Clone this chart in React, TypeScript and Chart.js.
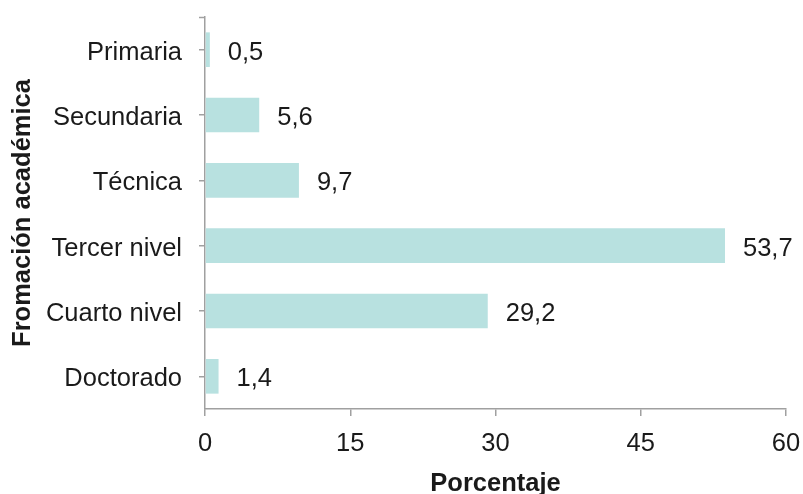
import React, { useEffect, useRef } from "react";
import { Chart, registerables } from "chart.js";

Chart.register(...registerables);

const categories = ["Primaria", "Secundaria", "Técnica", "Tercer nivel", "Cuarto nivel", "Doctorado"];
const values = [0.5, 5.6, 9.7, 53.7, 29.2, 1.4];
const xTicks = [0, 15, 30, 45, 60];

const FONT = "'Liberation Sans', Arial, sans-serif";
const FS = 25.5;
const AXIS = "#a0a0a0";
const TXT = "#1a1a1a";

const labelPlugin = {
  id: "valLabels",
  afterDatasetsDraw(chart: any) {
    const ctx = chart.ctx;
    const meta = chart.getDatasetMeta(0);
    const y = chart.scales.y;
    ctx.save();
    ctx.font = `${FS}px ${FONT}`;
    ctx.fillStyle = TXT;
    ctx.textBaseline = "middle";
    ctx.textAlign = "left";
    meta.data.forEach((el: any, i: number) => {
      const txt = values[i].toFixed(1).replace(".", ",");
      ctx.fillText(txt, el.x + 18, el.y + 3);
    });
    ctx.textAlign = "right";
    categories.forEach((c, i) => {
      ctx.fillText(c, y.right - 23, y.getPixelForValue(i) + 3);
    });
    // top end cap of y axis
    ctx.strokeStyle = AXIS;
    ctx.lineWidth = 1.5;
    ctx.beginPath();
    ctx.moveTo(y.right - 6, y.top + 0.5);
    ctx.lineTo(y.right, y.top + 0.5);
    ctx.stroke();
    ctx.restore();
  },
};

export default function App() {
  const ref = useRef<HTMLCanvasElement>(null);
  useEffect(() => {
    const chart = new Chart(ref.current!, {
      type: "bar",
      data: {
        labels: categories,
        datasets: [
          {
            data: values,
            backgroundColor: "#b8e1e0",
            categoryPercentage: 1,
            barPercentage: 0.53,
          },
        ],
      },
      options: {
        indexAxis: "y",
        animation: false,
        responsive: false,
        layout: { padding: { top: 17, right: 17, left: 0, bottom: 0 } },
        plugins: { legend: { display: false }, tooltip: { enabled: false } },
        scales: {
          x: {
            min: 0,
            max: 60,
            afterBuildTicks: (s: any) => {
              s.ticks = xTicks.map((v) => ({ value: v }));
            },
            afterFit: (s: any) => {
              s.height = 85;
              s.paddingRight = 0;
              s.paddingLeft = 0;
            },
            border: { color: AXIS, width: 1.5 },
            grid: { drawOnChartArea: false, color: AXIS, tickLength: 7, lineWidth: 1.5 },
            ticks: { font: { family: FONT, size: FS }, color: TXT, padding: 13 },
            title: {
              display: true,
              text: "Porcentaje",
              font: { family: FONT, size: FS, weight: "bold", lineHeight: 0.78 },
              color: TXT,
              padding: { top: 0, bottom: 0 },
            },
          },
          y: {
            afterFit: (s: any) => {
              s.width = 205;
            },
            border: { color: AXIS, width: 1.5 },
            grid: { drawOnChartArea: false, color: AXIS, tickLength: 6, offset: false, lineWidth: 1.5 },
            ticks: { display: false },
            title: {
              display: true,
              text: "Fromación académica",
              font: { family: FONT, size: FS, weight: "bold" },
              color: TXT,
              padding: { top: 8, bottom: 0 },
            },
          },
        },
      },
      plugins: [labelPlugin],
    } as any);
    return () => chart.destroy();
  }, []);
  return (
    <div style={{ position: "absolute", left: 0, top: 0, width: 803, height: 494 }}>
      <canvas ref={ref} width={803} height={494} style={{ display: "block" }} />
    </div>
  );
}
